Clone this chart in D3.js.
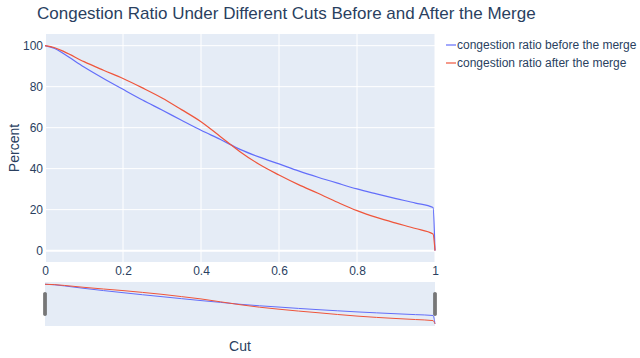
<!DOCTYPE html>
<html lang="en">
<head>
<meta charset="UTF-8">
<title>Congestion Ratio</title>
<script src="https://cdn.jsdelivr.net/npm/d3@7"></script>
<style>
  body { margin: 0; background: #fff; }
  text { font-family: "Liberation Sans", Arial, sans-serif; fill: #2a3f5f; }
</style>
</head>
<body>
<script>
// chart values
const cuts   = [0, 0.025, 0.05, 0.1, 0.15, 0.2, 0.25, 0.3, 0.35, 0.4, 0.45, 0.5, 0.55, 0.6, 0.65, 0.7, 0.75, 0.8, 0.85, 0.9, 0.95, 0.995, 1];
const before = [100, 98.6, 95.8, 89.6, 84, 78.7, 73.5, 68.6, 63.6, 58.7, 54.2, 49.4, 45.6, 42.3, 38.9, 35.8, 32.9, 30.1, 27.7, 25.4, 23.2, 21.0, 0];
const after  = [100, 99, 97, 92.2, 88, 84, 79.4, 74.5, 68.8, 62.9, 55.6, 48.3, 42, 36.9, 32.2, 28, 23.6, 19.5, 16.2, 13.4, 10.8, 8.1, 0];
const seriesNames = ["congestion ratio before the merge", "congestion ratio after the merge"];
const xTicks = [0, 0.2, 0.4, 0.6, 0.8, 1];
const yTicks = [0, 20, 40, 60, 80, 100];

const w = 640, h = 358;
const plotLeft = 45, plotRight = 435, plotTop = 34, plotBottom = 262;
const sliderTop = 282, sliderBottom = 326;
const colors = ["#636efa", "#EF553B"];

const svg = d3.select("body").append("svg")
  .attr("width", w)
  .attr("height", h);

const x = d3.scaleLinear().domain([0, 1]).range([plotLeft, plotRight]);
const y = d3.scaleLinear().domain([-5.55, 105.7]).range([plotBottom, plotTop]);
const ySlider = d3.scaleLinear().domain([-5.55, 105.7]).range([sliderBottom, sliderTop]);

// plot background
svg.append("rect")
  .attr("x", plotLeft).attr("y", plotTop)
  .attr("width", plotRight - plotLeft).attr("height", plotBottom - plotTop)
  .attr("fill", "#e5ecf6");

// grid
svg.append("g").selectAll("line")
  .data(xTicks)
  .join("line")
  .attr("x1", d => x(d)).attr("x2", d => x(d))
  .attr("y1", plotTop).attr("y2", plotBottom)
  .attr("stroke", "#fff")
  .attr("stroke-width", d => d === 0 ? 2 : 1);

svg.append("g").selectAll("line")
  .data(yTicks)
  .join("line")
  .attr("x1", plotLeft).attr("x2", plotRight)
  .attr("y1", d => y(d)).attr("y2", d => y(d))
  .attr("stroke", "#fff")
  .attr("stroke-width", d => d === 0 ? 2 : 1);

// lines
const seriesData = [before, after];
const line = d3.line()
  .x((d, i) => x(cuts[i]))
  .y(d => y(d))
  .curve(d3.curveMonotoneX);

svg.append("g").selectAll("path")
  .data(seriesData)
  .join("path")
  .attr("d", line)
  .attr("fill", "none")
  .attr("stroke", (d, i) => colors[i])
  .attr("stroke-width", 1.2);

// range slider
svg.append("rect")
  .attr("x", plotLeft).attr("y", sliderTop)
  .attr("width", plotRight - plotLeft).attr("height", sliderBottom - sliderTop)
  .attr("fill", "#e5ecf6");

const sliderLine = d3.line()
  .x((d, i) => x(cuts[i]))
  .y(d => ySlider(d))
  .curve(d3.curveMonotoneX);

svg.append("g").selectAll("path")
  .data(seriesData)
  .join("path")
  .attr("d", sliderLine)
  .attr("fill", "none")
  .attr("stroke", (d, i) => colors[i])
  .attr("stroke-width", 1);

svg.append("g").selectAll("rect")
  .data([0, 1])
  .join("rect")
  .attr("x", d => x(d) - 1.5)
  .attr("y", 292.5)
  .attr("width", 3)
  .attr("height", 23)
  .attr("rx", 1)
  .attr("fill", "#777")
  .attr("stroke", "#555")
  .attr("stroke-width", 0.5);

// axes (labels only, plotly style)
const xAxis = svg.append("g")
  .attr("transform", `translate(0,${plotBottom})`)
  .call(d3.axisBottom(x).tickValues(xTicks).tickSize(0).tickPadding(4.5).tickFormat(d3.format("~g")));
xAxis.select(".domain").remove();
xAxis.selectAll("text").style("font-size", "12px").attr("fill", "#2a3f5f");

const yAxis = svg.append("g")
  .attr("transform", `translate(${plotLeft},0)`)
  .call(d3.axisLeft(y).tickValues(yTicks).tickSize(0).tickPadding(2));
yAxis.select(".domain").remove();
yAxis.selectAll("text").style("font-size", "12px").attr("fill", "#2a3f5f");

// title and axis titles
svg.append("text")
  .attr("x", 37).attr("y", 18.5)
  .style("font-size", "17px")
  .text("Congestion Ratio Under Different Cuts Before and After the Merge");

svg.append("text")
  .attr("x", 240).attr("y", 351)
  .attr("text-anchor", "middle")
  .style("font-size", "14px")
  .text("Cut");

svg.append("text")
  .attr("transform", "translate(19,148) rotate(-90)")
  .attr("text-anchor", "middle")
  .style("font-size", "14px")
  .text("Percent");

// legend
const legend = svg.append("g").selectAll("g")
  .data(seriesNames)
  .join("g")
  .attr("transform", (d, i) => `translate(446,${45 + i * 18})`);

legend.append("line")
  .attr("x1", 0).attr("x2", 10)
  .attr("stroke", (d, i) => colors[i])
  .attr("stroke-width", 1.2);

legend.append("text")
  .attr("x", 11).attr("y", 4.3)
  .style("font-size", "12px")
  .text(d => d);
</script>
</body>
</html>
